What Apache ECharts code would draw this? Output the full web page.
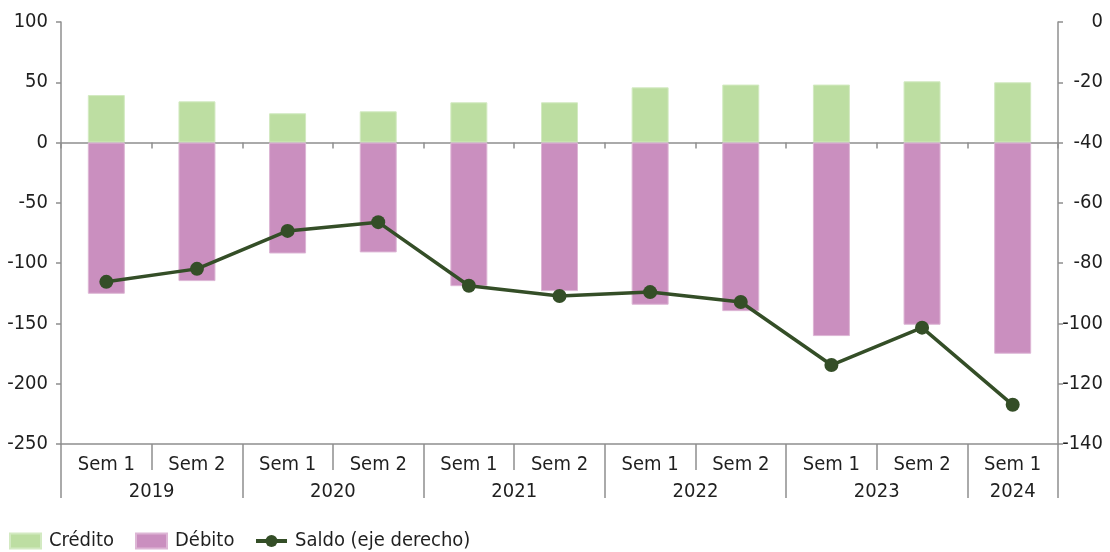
<!DOCTYPE html>
<html>
<head>
<meta charset="utf-8">
<script src="https://cdn.jsdelivr.net/npm/echarts@6/dist/echarts.min.js"></script>
<style>
html,body{margin:0;padding:0;background:#fff;}
#chart{width:1110px;height:552px;}
</style>
</head>
<body>
<div id="chart"></div>
<script>
const semLabels = ['Sem 1','Sem 2','Sem 1','Sem 2','Sem 1','Sem 2','Sem 1','Sem 2','Sem 1','Sem 2','Sem 1'];
const years = ['2019','2020','2021','2022','2023','2024'];
const yearSpans = [2,2,2,2,2,1];
const credito = [39.4, 34.2, 24.3, 25.9, 33.4, 33.4, 45.8, 48.1, 48.1, 50.8, 50.0];
const debito = [-125.4, -114.9, -92.0, -91.1, -119.1, -123.2, -134.5, -139.8, -160.5, -151.1, -175.1];
const saldo = [-86.2, -81.9, -69.3, -66.4, -87.5, -90.9, -89.6, -92.9, -113.8, -101.4, -127.0];
const leftTicks = {min: -250, max: 100, interval: 50};
const rightTicks = {min: -140, max: 0, interval: 20};

// year boundaries and midpoints built from spans
const yearBounds = [0];
yearSpans.forEach(s => yearBounds.push(yearBounds[yearBounds.length - 1] + s));
const yearMids = years.map((y, i) => (yearBounds[i] + yearBounds[i + 1]) / 2);

const FONT = "'Liberation Sans Narrow', 'DejaVu Sans Condensed', 'Roboto', sans-serif";
const AX = '#8f8f8f';
const TXT = '#1f1f1f';

const chart = echarts.init(document.getElementById('chart'), null, {renderer: 'canvas'});
chart.setOption({
  animation: false,
  textStyle: {fontFamily: FONT},
  grid: {left: 61, right: 52, top: 22, bottom: 108, containLabel: false},
  legend: {
    left: 9, top: 529, padding: 0,
    itemWidth: 31, itemHeight: 15, itemGap: 0,
    textStyle: {fontFamily: FONT, fontSize: 20, lineHeight: 24, color: TXT, padding: [0, 0, 0, 3]},
    data: [
      {name: 'Crédito', icon: 'rect', textStyle: {width: 86}},
      {name: 'Débito', icon: 'rect', textStyle: {width: 79}},
      {name: 'Saldo (eje derecho)', lineStyle: {width: 4}}
    ]
  },
  xAxis: [
    { // zero line axis
      type: 'category', data: semLabels, position: 'bottom',
      axisLine: {onZero: true, onZeroAxisIndex: 0, lineStyle: {color: AX, width: 1.5}},
      axisTick: {show: true, length: 6, interval: 0, alignWithLabel: false, lineStyle: {color: AX, width: 1.5}},
      axisLabel: {show: false}, splitLine: {show: false}
    },
    { // semester labels
      type: 'category', data: semLabels, position: 'bottom',
      axisLine: {onZero: false, lineStyle: {color: AX, width: 1.5}},
      axisTick: {show: true, length: 26, interval: 0, lineStyle: {color: AX, width: 1.5}},
      axisLabel: {interval: 0, margin: 11, fontSize: 20, color: TXT, fontFamily: FONT},
      splitLine: {show: false}
    },
    { // year labels
      type: 'value', position: 'bottom', min: 0, max: semLabels.length,
      axisLine: {show: false, onZero: false},
      axisTick: {show: true, length: 54, customValues: yearBounds, lineStyle: {color: AX, width: 1.5}},
      axisLabel: {
        margin: 38, fontSize: 20, color: TXT, fontFamily: FONT,
        customValues: yearMids,
        formatter: v => { const i = yearMids.indexOf(v); return i >= 0 ? years[i] : ''; }
      },
      splitLine: {show: false}
    }
  ],
  yAxis: [
    {
      type: 'value', position: 'left', min: leftTicks.min, max: leftTicks.max, interval: leftTicks.interval,
      axisLine: {show: true, lineStyle: {color: AX, width: 1.5}},
      axisTick: {show: true, length: 5, lineStyle: {color: AX, width: 1.5}},
      axisLabel: {margin: 13, fontSize: 20, color: TXT, fontFamily: FONT},
      splitLine: {show: false}
    },
    {
      type: 'value', position: 'right', min: rightTicks.min, max: rightTicks.max, interval: rightTicks.interval,
      axisLine: {show: true, lineStyle: {color: AX, width: 1.5}},
      axisTick: {show: true, length: 5, lineStyle: {color: AX, width: 1.5}},
      axisLabel: {margin: 45, align: 'right', fontSize: 20, color: TXT, fontFamily: FONT},
      splitLine: {show: false}
    }
  ],
  series: [
    {
      name: 'Crédito', type: 'bar', xAxisIndex: 1, yAxisIndex: 0, stack: 'cd',
      barWidth: 37, data: credito,
      itemStyle: {color: '#bddea2', borderColor: '#d3eac2', borderWidth: 1}
    },
    {
      name: 'Débito', type: 'bar', xAxisIndex: 1, yAxisIndex: 0, stack: 'cd',
      barWidth: 37, data: debito,
      itemStyle: {color: '#ca8fbf', borderColor: '#ddb6d5', borderWidth: 1}
    },
    {
      name: 'Saldo (eje derecho)', type: 'line', xAxisIndex: 1, yAxisIndex: 1,
      data: saldo, symbol: 'circle', symbolSize: 14, z: 5,
      lineStyle: {color: '#344e27', width: 3.5},
      itemStyle: {color: '#344e27'}
    }
  ]
});
</script>
</body>
</html>
